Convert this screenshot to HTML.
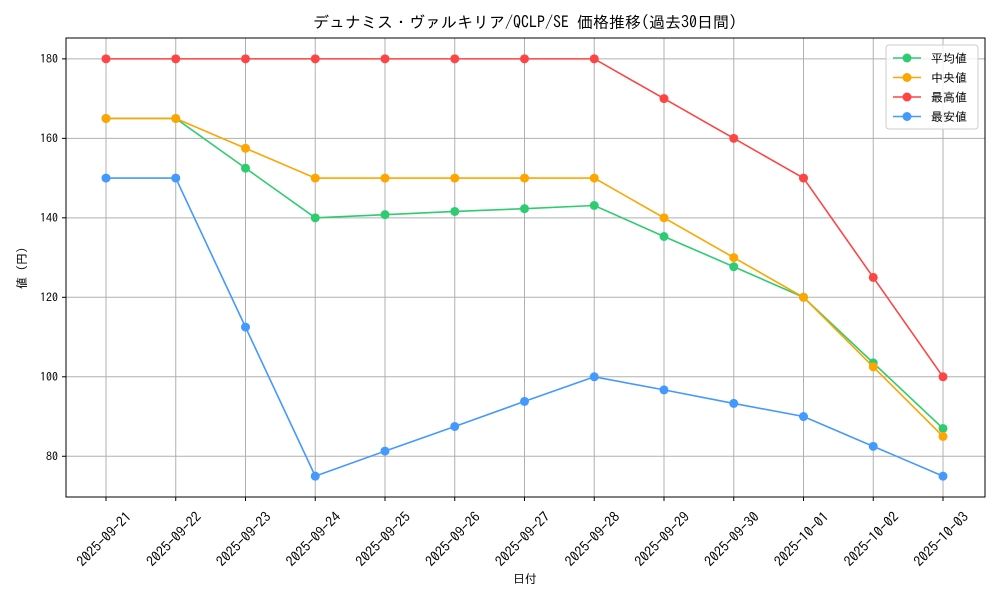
<!DOCTYPE html>
<html><head><meta charset="utf-8"><style>
body{margin:0;background:#fff;}
svg text{font-family:"IPAGothic","Noto Sans CJK JP",sans-serif;fill:#000;}
</style></head><body>
<svg id="chart" width="1000" height="600" xmlns="http://www.w3.org/2000/svg">
<rect width="1000" height="600" fill="#fff"/>
<text x="525" y="28" font-size="16" text-anchor="middle">デュナミス・ヴァルキリア/QCLP/SE 価格推移(過去30日間)</text>
<g id="grid"></g>
<g id="series"></g>
<rect x="66" y="38" width="919" height="459" fill="none" stroke="#000" stroke-width="1"/>
<text x="525" y="583" font-size="12" text-anchor="middle">日付</text>
<text x="26" y="268" font-size="12" text-anchor="middle" transform="rotate(-90 26 268)">値 (円)</text>
<g id="legend"></g>
</svg>
<script>
const dates=["2025-09-21","2025-09-22","2025-09-23","2025-09-24","2025-09-25","2025-09-26","2025-09-27","2025-09-28","2025-09-29","2025-09-30","2025-10-01","2025-10-02","2025-10-03"];
const meanVals=[165,165,152.5,140,140.8,141.6,142.3,143.1,135.3,127.7,120,103.5,87];
const medianVals=[165,165,157.5,150,150,150,150,150,140,130,120,102.5,85];
const maxVals=[180,180,180,180,180,180,180,180,170,160,150,125,100];
const minVals=[150,150,112.5,75,81.3,87.5,93.8,100,96.7,93.3,90,82.5,75];
const yTicks=[80,100,120,140,160,180];
const seriesNames=["平均値","中央値","最高値","最安値"];
const NS="http://www.w3.org/2000/svg";
const L=66,R=985,T=38,B=497,ymin=69.75,ymax=185.25;
const xs=i=>106+i*(943-106)/(dates.length-1);
const ys=v=>B-(v-ymin)/(ymax-ymin)*(B-T);
function mk(tag,attrs,parent){const e=document.createElementNS(NS,tag);for(const k in attrs)e.setAttribute(k,attrs[k]);parent.appendChild(e);return e;}
const grid=document.getElementById('grid');
dates.forEach((d,i)=>{
 const x=xs(i);
 const gl=mk('line',{x1:x,x2:x,y1:T,y2:B,stroke:'#b0b0b0','stroke-width':1},grid);
 
 
 mk('line',{x1:x,x2:x,y1:B,y2:B+4,stroke:'#000'},grid);
 const cx=x-2,cy=539;
 const t=mk('text',{x:cx,y:cy+5,'font-size':14,'text-anchor':'middle',transform:`rotate(-45 ${cx} ${cy})`},grid);
 t.textContent=d;
 
 
});
yTicks.forEach(v=>{
 const y=ys(v);
 const gl=mk('line',{x1:L,x2:R,y1:y,y2:y,stroke:'#b0b0b0','stroke-width':1},grid);
 
 
 mk('line',{x1:L-4,x2:L,y1:y,y2:y,stroke:'#000'},grid);
 const t=mk('text',{x:L-8,y:y+4,'font-size':12,'text-anchor':'end'},grid);
 t.textContent=v;
 
 
});
const sdata=[meanVals,medianVals,maxVals,minVals];
const colors=["#2ecc71","#ffa500","#ff4444","#4499ff"];
const keys=["mean","median","max","min"];
const sg=document.getElementById('series');
sdata.forEach((arr,s)=>{
 const g=mk('g',{},sg);
 
 
 mk('polyline',{points:arr.map((v,i)=>xs(i)+','+ys(v)).join(' '),fill:'none',stroke:colors[s],'stroke-width':1.6},g);
 arr.forEach((v,i)=>{
  const c=mk('circle',{cx:xs(i),cy:ys(v),r:4.5,fill:colors[s]},g);
  
  
 });
});
const lg=document.getElementById('legend');
mk('rect',{x:886,y:45,width:92,height:84,rx:3,fill:'#fff',stroke:'#ccc','fill-opacity':0.8},lg);
seriesNames.forEach((n,s)=>{
 const y=58+s*19.5;
 const e=mk('g',{},lg);
 
 
 mk('line',{x1:893,x2:921,y1:y,y2:y,stroke:colors[s],'stroke-width':1.6},e);
 mk('circle',{cx:907,cy:y,r:4.5,fill:colors[s]},e);
 const t=mk('text',{x:931,y:y+4.5,'font-size':12},e);
 t.textContent=n;
});
</script>
</body></html>
